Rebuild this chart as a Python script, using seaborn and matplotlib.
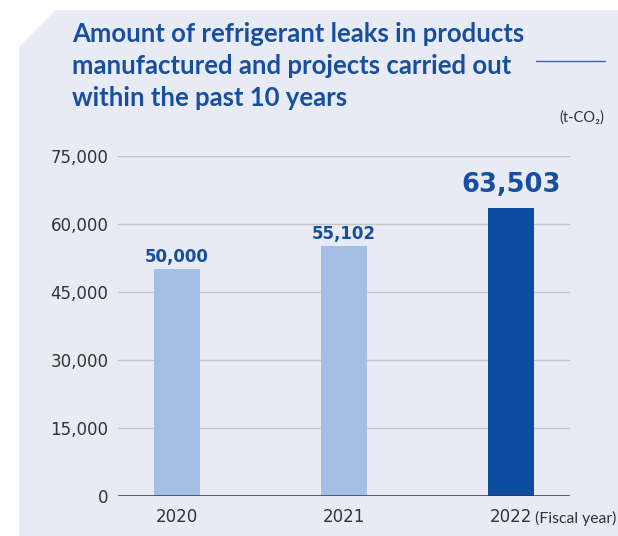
import matplotlib
matplotlib.use("Agg")
import matplotlib.pyplot as plt
from matplotlib.patches import Polygon
from matplotlib.lines import Line2D
import seaborn as sns
import pandas as pd

years = ["2020", "2021", "2022"]
values = [50000, 55102, 63503]
value_labels = ["50,000", "55,102", "63,503"]
yticks = [0, 15000, 30000, 45000, 60000, 75000]
ytick_labels = ["0", "15,000", "30,000", "45,000", "60,000", "75,000"]
title_lines = ["Amount of refrigerant leaks in products",
               "manufactured and projects carried out",
               "within the past 10 years"]
unit_label = "(t-CO\u2082)"
xunit_label = "(Fiscal year)"

W, H = 618, 536
DPI = 100
BG = "#e8eaf4"
LIGHT = "#a3bfe4"
DARK = "#0c4da2"
BLUE_TXT = "#174f9f"

sns.set_theme(style="white")
plt.rcParams['font.family'] = ['DejaVu Sans']

fig = plt.figure(figsize=(W / DPI, H / DPI), dpi=DPI)
fig.patch.set_facecolor("white")

def fx(px):
    return px / W

def fy(py):
    return 1 - py / H

panel = Polygon([(fx(19), fy(47)), (fx(56), fy(10)), (fx(618), fy(10)),
                 (fx(618), fy(536)), (fx(19), fy(536))],
                closed=True, transform=fig.transFigure, facecolor=BG,
                edgecolor="none", zorder=-10)
fig.patches.append(panel)

ax = fig.add_axes([fx(118), fy(496), fx(570) - fx(118), fy(156) - fy(496)])
ax.set_facecolor("none")
ax.set_zorder(1)

df = pd.DataFrame({"year": years, "value": values,
                   "kind": ["past", "past", "latest"]})
sns.barplot(data=df, x="year", y="value", hue="kind",
            palette={"past": LIGHT, "latest": DARK}, width=0.275,
            dodge=False, legend=False, ax=ax, zorder=3, saturation=1,
            linewidth=0, edgecolor="none")

ax.set_xlim(-0.353, 2.353)
ax.set_ylim(0, 75000)
ax.set_yticks(yticks)
ax.set_yticklabels(ytick_labels)
ax.set_xlabel("")
ax.set_ylabel("")
for y in yticks[1:]:
    ax.axhline(y, color="#c6c7cc", lw=1.0, zorder=1)
ax.axhline(0, color="#3a3a3a", lw=1.1, zorder=4)
for s in ax.spines.values():
    s.set_visible(False)
ax.tick_params(axis="y", length=0, pad=7, labelsize=12, labelcolor="#333333")
ax.tick_params(axis="x", length=0, pad=9, labelsize=12, labelcolor="#333333")

for i, (v, lab) in enumerate(zip(values, value_labels)):
    if i == len(values) - 1:
        ax.annotate(lab, (i, v), xytext=(0, 7), textcoords="offset points",
                    ha="center", va="bottom", fontsize=18.5, fontweight="bold",
                    color=BLUE_TXT)
    else:
        ax.annotate(lab, (i, v), xytext=(0, 2.5), textcoords="offset points",
                    ha="center", va="bottom", fontsize=12, fontweight="bold",
                    color=BLUE_TXT)

# title lines, fitted to the reference width
baselines = [42, 74, 106]
fs = 18
renderer = fig.canvas.get_renderer()
t = fig.text(fx(72), fy(baselines[0]), title_lines[0], fontsize=fs,
             fontweight="bold", color=BLUE_TXT, family=["Lato", "DejaVu Sans"],
             va="baseline", ha="left")
wpx = t.get_window_extent(renderer).width
fs = fs * 453 / wpx
t.set_fontsize(fs)
for line, b in zip(title_lines[1:], baselines[1:]):
    fig.text(fx(72), fy(b), line, fontsize=fs, fontweight="bold",
             color=BLUE_TXT, family=["Lato", "DejaVu Sans"],
             va="baseline", ha="left")

fig.add_artist(Line2D([fx(536), fx(605)], [fy(61), fy(61)],
                      transform=fig.transFigure, color="#3f62aa", lw=1.0))

fig.text(fx(604), fy(122), unit_label, fontsize=10.5, color="#333333",
         family=["Lato", "DejaVu Sans"], ha="right", va="baseline")
fig.text(fx(535), fy(523), xunit_label, fontsize=11.3, color="#333333",
         family=["Lato", "DejaVu Sans"], ha="left", va="baseline")

fig.savefig("out.png", dpi=DPI, facecolor=fig.get_facecolor())
